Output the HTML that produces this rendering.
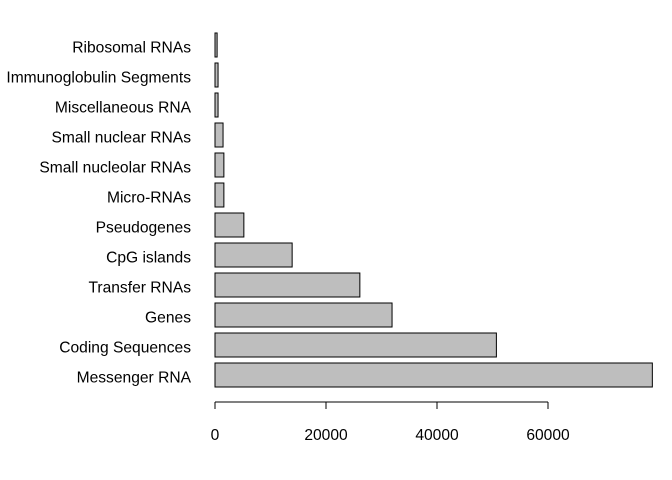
<!DOCTYPE html>
<html><head><meta charset="utf-8"><style>
html,body{margin:0;padding:0;background:#fff}
svg{display:block;font-family:"Liberation Sans",Arial,sans-serif}
</style></head><body>
<svg id="chart" width="672" height="480" viewBox="0 0 672 480">
<rect width="672" height="480" fill="#fff"/>
<g id="bars"></g>
<g id="ylabels"></g>
<g id="xaxis"></g>
</svg>
<script>
const categories = ["Messenger RNA","Coding Sequences","Genes","Transfer RNAs","CpG islands","Pseudogenes","Micro-RNAs","Small nucleolar RNAs","Small nuclear RNAs","Miscellaneous RNA","Immunoglobulin Segments","Ribosomal RNAs"];
const values = [78800,50700,31900,26100,13900,5200,1600,1600,1450,550,550,380];
const ticks = [0,20000,40000,60000];
const tickLabels = ["0","20000","40000","60000"];

const NS="http://www.w3.org/2000/svg";
const x0=215, pxPer=111/20000;
const xs = v => x0 + v*pxPer;
const yc = i => 375 - i*30;
const bh = 24;
const bars=document.getElementById('bars'), yl=document.getElementById('ylabels'), xa=document.getElementById('xaxis');
function mk(t,a){const e=document.createElementNS(NS,t);for(const k in a)e.setAttribute(k,a[k]);return e;}
categories.forEach((c,i)=>{
  const r=mk('rect',{x:x0,y:yc(i)-bh/2,width:Math.max(0,xs(values[i])-x0),height:bh,fill:'#bebebe',stroke:'#000','stroke-width':1});
  
  
  bars.appendChild(r);
  const t=mk('text',{x:191,y:yc(i)+7.5,'text-anchor':'end','font-size':15.6,fill:'#000'});
  t.textContent=c;
  
  
  yl.appendChild(t);
});
const ax=mk('line',{x1:xs(ticks[0]),x2:xs(ticks[ticks.length-1]),y1:402,y2:402,stroke:'#000'});


xa.appendChild(ax);
ticks.forEach((v,i)=>{
  const l=mk('line',{x1:xs(v),x2:xs(v),y1:402,y2:409,stroke:'#000'});
  
  
  xa.appendChild(l);
  const t=mk('text',{x:xs(v),y:440,'text-anchor':'middle','font-size':15.6,fill:'#000'});
  t.textContent=tickLabels[i];
  
  
  xa.appendChild(t);
});
</script>
</body></html>
